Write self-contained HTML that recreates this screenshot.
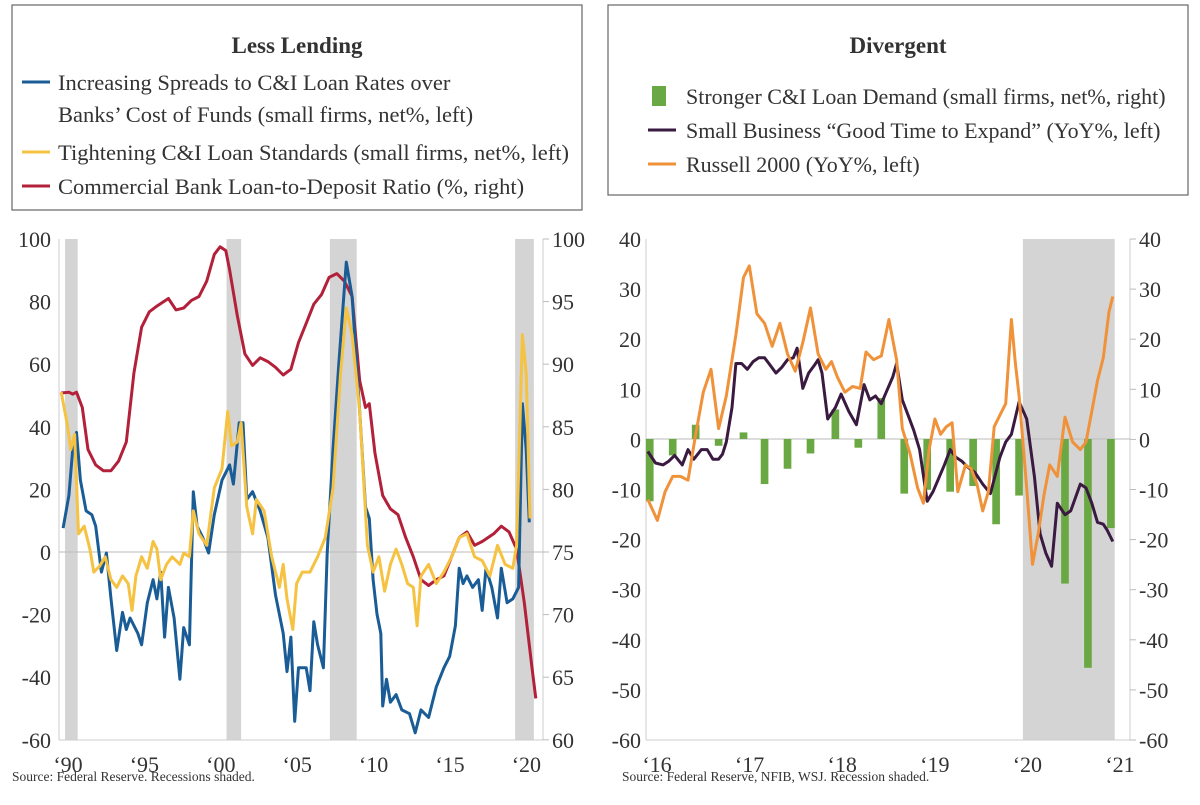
<!DOCTYPE html>
<html><head><meta charset="utf-8"><style>
body{margin:0;background:#fff;width:1200px;height:800px;overflow:hidden;font-family:"Liberation Serif",serif;}
svg text{font-family:"Liberation Serif",serif;fill:#333;}
</style></head><body>
<svg id="s" width="1200" height="800" xmlns="http://www.w3.org/2000/svg">
<rect x="12" y="5" width="570" height="205" fill="#fff" stroke="#666" stroke-width="1.2"/>
<text x="297" y="53" font-size="23" font-weight="bold" text-anchor="middle" fill="#222">Less Lending</text>
<line x1="22" y1="82" x2="50" y2="82" stroke="#1a5c96" stroke-width="3"/>
<text x="58" y="90" font-size="22.5">Increasing Spreads to C&amp;I Loan Rates over</text>
<text x="58" y="122" font-size="22.5">Banks’ Cost of Funds (small firms, net%, left)</text>
<line x1="22" y1="152" x2="50" y2="152" stroke="#f5c242" stroke-width="3"/>
<text x="58" y="160" font-size="22.5">Tightening C&amp;I Loan Standards (small firms, net%, left)</text>
<line x1="22" y1="186" x2="50" y2="186" stroke="#b3203a" stroke-width="3"/>
<text x="58" y="194" font-size="22.5">Commercial Bank Loan-to-Deposit Ratio (%, right)</text>

<rect x="608" y="5" width="580" height="190" fill="#fff" stroke="#666" stroke-width="1.2"/>
<text x="898" y="53" font-size="23" font-weight="bold" text-anchor="middle" fill="#222">Divergent</text>
<rect x="652" y="86" width="14" height="20" fill="#6aa843"/>
<text x="686" y="104" font-size="22">Stronger C&amp;I Loan Demand (small firms, net%, right)</text>
<line x1="648" y1="130" x2="676" y2="130" stroke="#3a1a40" stroke-width="3"/>
<text x="686" y="138" font-size="22">Small Business “Good Time to Expand” (YoY%, left)</text>
<line x1="648" y1="164" x2="676" y2="164" stroke="#f0923a" stroke-width="3"/>
<text x="686" y="172" font-size="22">Russell 2000 (YoY%, left)</text>

<g id="L"></g><g id="R"></g>
<text x="12" y="781" font-size="13.5" fill="#555">Source:  Federal Reserve. Recessions shaded.</text>
<text x="622" y="781" font-size="13.5" fill="#555">Source:  Federal Reserve, NFIB, WSJ. Recession shaded.</text>
</svg>
<script>
const K=2.613,NS="http://www.w3.org/2000/svg";
function el(g,t,a,txt){const e=document.createElementNS(NS,t);for(const k in a)e.setAttribute(k,a[k]);if(txt!==undefined)e.textContent=txt;g.appendChild(e);return e;}
function pl(g,ox,pts,c,w){el(g,"polyline",{points:pts.map(p=>(ox+p[0]/K).toFixed(1)+","+(220+p[1]/K).toFixed(1)).join(" "),fill:"none",stroke:c,"stroke-width":w,"stroke-linejoin":"round"});}
// LEFT
const L=document.getElementById("L");
[[170,203],[592,630],[862,932],[1346,1395]].forEach(r=>el(L,"rect",{x:r[0]/K,y:239,width:(r[1]-r[0])/K,height:501,fill:"#d4d4d4"}));
el(L,"line",{x1:59,y1:239,x2:59,y2:740,stroke:"#ccc"});
el(L,"line",{x1:543,y1:239,x2:543,y2:740,stroke:"#ccc"});
el(L,"line",{x1:59,y1:740,x2:543,y2:740,stroke:"#ccc"});
el(L,"line",{x1:59,y1:552,x2:543,y2:552,stroke:"#bbb"});
for(let v=100,i=0;v>=-60;v-=20,i++){const y=239+i*62.6;el(L,"text",{x:51,y:y+8,"font-size":22,"text-anchor":"end"},v);}
for(let v=100,i=0;v>=60;v-=5,i++){const y=239+i*62.6;el(L,"line",{x1:543,y1:y,x2:549,y2:y,stroke:"#bbb"});el(L,"text",{x:552,y:y+8,"font-size":22},v);}
["‘90","‘95","‘00","‘05","‘10","‘15","‘20"].forEach((t,i)=>el(L,"text",{x:68+i*76.4,y:772,"font-size":22,"text-anchor":"middle"},t));
pl(L,0,[[160,452],[180,450],[190,455],[200,450],[215,490],[230,600],[250,640],[270,655],[290,655],[310,630],[330,580],[350,400],[370,280],[390,240],[410,225],[440,205],[460,235],[480,230],[500,210],[520,200],[540,160],[560,90],[575,70],[590,80],[600,130],[620,250],[640,350],[660,380],[680,360],[700,370],[720,385],[740,405],[760,390],[780,320],[800,270],[820,220],[840,195],[860,150],[880,140],[900,160],[920,200],[940,420],[955,490],[965,480],[980,610],[1000,720],[1020,755],[1040,770],[1060,830],[1080,880],[1100,940],[1120,955],[1140,940],[1160,930],[1180,880],[1200,830],[1220,815],[1240,850],[1260,840],[1290,820],[1310,800],[1330,815],[1350,860],[1370,1000],[1390,1170],[1400,1250]],"#b3203a",3);
pl(L,0,[[165,805],[180,720],[190,600],[200,555],[210,680],[225,760],[240,770],[250,800],[265,920],[278,870],[290,990],[305,1125],[320,1025],[330,1070],[340,1040],[360,1080],[370,1110],[385,1000],[400,940],[410,990],[420,920],[430,1090],[440,960],[455,1040],[470,1200],[480,1065],[495,1110],[505,710],[515,800],[530,830],[545,870],[560,770],[580,680],[600,640],[610,690],[625,530],[635,530],[645,730],[660,710],[680,760],[700,830],[720,980],[740,1080],[750,1180],[760,1090],[770,1310],[780,1170],[800,1170],[810,1230],[820,1050],[830,1110],[845,1170],[855,870],[870,600],[885,380],[905,110],[920,200],[940,500],[955,750],[965,780],[975,940],[985,1030],[995,1080],[1000,1270],[1010,1200],[1020,1260],[1035,1240],[1050,1280],[1070,1290],[1085,1340],[1100,1280],[1120,1300],[1140,1220],[1160,1170],[1175,1140],[1190,1060],[1200,910],[1210,950],[1220,930],[1235,960],[1250,940],[1260,1020],[1270,910],[1285,960],[1300,1040],[1310,910],[1325,1000],[1340,990],[1355,960],[1365,480],[1375,600],[1383,790]],"#1a5c96",3);
pl(L,0,[[160,450],[175,530],[185,600],[195,560],[205,820],[220,800],[235,860],[245,920],[260,905],[275,880],[290,940],[305,960],[320,930],[335,950],[345,1020],[355,930],[370,880],[385,910],[400,840],[410,860],[420,940],[435,900],[450,880],[470,900],[480,870],[495,880],[505,760],[520,820],[540,850],[560,700],[580,650],[595,500],[605,590],[620,580],[630,530],[645,750],[660,820],[670,730],[690,760],[710,880],[730,960],[740,900],[750,990],[765,1070],[775,950],[790,920],[810,920],[830,880],[850,830],[870,700],[890,400],[905,230],[920,300],[940,500],[960,850],[975,920],[990,880],[1005,970],[1020,900],[1035,860],[1050,900],[1065,950],[1080,960],[1090,1060],[1100,930],[1120,900],[1140,950],[1160,920],[1180,880],[1200,830],[1220,820],[1240,880],[1260,890],[1280,930],[1300,850],[1320,900],[1340,910],[1350,850],[1365,300],[1375,400],[1385,780]],"#f5c242",3);
// RIGHT
const R=document.getElementById("R");
el(R,"rect",{x:600+1105/K,y:239,width:240/K,height:501,fill:"#d4d4d4"});
el(R,"line",{x1:646,y1:239,x2:646,y2:740,stroke:"#ccc"});
el(R,"line",{x1:1130,y1:239,x2:1130,y2:740,stroke:"#ccc"});
el(R,"line",{x1:646,y1:740,x2:1130,y2:740,stroke:"#ccc"});
el(R,"line",{x1:646,y1:439,x2:1130,y2:439,stroke:"#bbb"});
for(let v=40,i=0;v>=-60;v-=10,i++){const y=239+i*50.1;el(R,"text",{x:641,y:y+8,"font-size":22,"text-anchor":"end"},v);el(R,"line",{x1:1130,y1:y,x2:1136,y2:y,stroke:"#bbb"});el(R,"text",{x:1139,y:y+8,"font-size":22},v);}
["‘16","‘17","‘18","‘19","‘20","‘21"].forEach((t,i)=>el(R,"text",{x:657+i*92.6,y:772,"font-size":22,"text-anchor":"middle"},t));
[[130,735],[190,615],[250,535],[310,590],[375,555],[430,690],[490,650],[550,610],[615,495],[675,595],[735,465],[795,715],[855,705],[915,710],[975,695],[1035,795],[1095,720],[1215,950],[1275,1170],[1335,805]].forEach(b=>{const y0=439,y1=220+b[1]/K;el(R,"rect",{x:600+(b[0]-10)/K,y:Math.min(y0,y1),width:20/K,height:Math.abs(y1-y0),fill:"#6aa843"});});
pl(R,600,[[125,605],[145,635],[165,640],[180,630],[195,615],[215,640],[230,600],[245,625],[265,600],[280,600],[295,625],[310,625],[320,612],[330,580],[345,490],[355,375],[370,375],[385,390],[400,370],[415,360],[430,360],[445,380],[460,400],[475,385],[490,365],[505,360],[515,335],[530,440],[545,400],[560,380],[570,365],[580,400],[595,520],[615,490],[630,455],[650,500],[670,535],[690,430],[705,470],[720,460],[735,480],[750,445],[765,410],[775,375],[790,470],[805,510],[820,550],[835,600],[855,735],[870,710],[885,675],[900,640],[915,600],[930,620],[945,630],[960,645],[980,660],[1000,690],[1020,715],[1045,620],[1060,580],[1075,560],[1095,475],[1115,520],[1135,670],[1150,820],[1165,870],[1180,905],[1195,740],[1215,770],[1230,760],[1255,690],[1270,700],[1285,740],[1300,790],[1315,795],[1325,810],[1340,840]],"#3a1a40",3);
pl(R,600,[[125,730],[150,785],[170,710],[190,670],[210,670],[230,680],[250,560],[270,450],[290,390],[310,545],[330,460],[355,300],[375,150],[390,120],[410,245],[430,270],[450,330],[470,270],[490,350],[510,395],[530,320],[550,230],[570,350],[590,390],[605,370],[620,410],[640,450],[660,435],[680,440],[695,345],[715,365],[735,355],[755,260],[775,365],[790,545],[810,610],[830,700],[845,740],[860,600],[875,520],[890,560],[905,540],[920,530],[935,710],[955,640],[970,650],[985,690],[1000,760],[1015,710],[1030,540],[1045,510],[1060,480],[1075,260],[1085,370],[1095,460],[1115,700],[1130,900],[1145,820],[1160,720],[1175,640],[1195,670],[1215,515],[1235,580],[1255,600],[1270,580],[1285,500],[1300,420],[1315,360],[1330,240],[1340,200]],"#f0923a",3);
</script>
</body></html>
